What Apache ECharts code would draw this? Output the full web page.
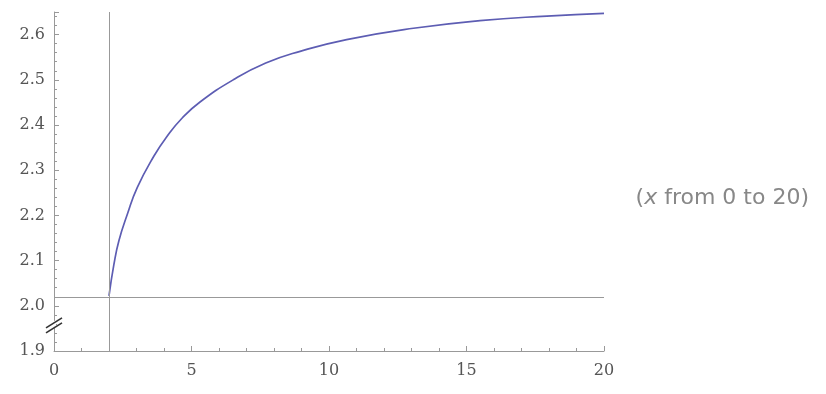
<!DOCTYPE html>
<html>
<head>
<meta charset="utf-8">
<script src="https://cdn.jsdelivr.net/npm/echarts@6/dist/echarts.min.js"></script>
<style>html,body{margin:0;padding:0;background:#fff}#c{width:826px;height:394px}</style>
</head>
<body>
<div id="c"></div>
<script>
// curve samples
var xs = [2.0, 2.18, 2.36, 2.67, 3.03, 3.64, 4.1, 4.67, 5.31, 6.52, 7.7, 8.95, 10.64, 13.07, 15.49, 17.92, 20.0];
var ys = [2.022, 2.092, 2.144, 2.203, 2.262, 2.332, 2.374, 2.416, 2.451, 2.50, 2.537, 2.563, 2.589, 2.614, 2.631, 2.641, 2.647];
// axis crossing lines
var crossX = 2;
var crossY = 2.022;
var xTicks = [0, 5, 10, 15, 20];
var yTicks = [1.9, 2.0, 2.1, 2.2, 2.3, 2.4, 2.5, 2.6];
var breakAt = 1.96;

var data = xs.map(function (x, i) { return [x, ys[i]]; });
var chart = echarts.init(document.getElementById('c'), null, {renderer: 'canvas'});
var labelStyle = {color: '#555', fontFamily: 'DejaVu Serif', fontSize: 16};
var gray = '#999';
chart.setOption({
  animation: false,
  grid: {left: 54, right: 222, top: 12, bottom: 43},
  xAxis: {
    type: 'value', min: xTicks[0], max: xTicks[xTicks.length - 1], interval: 5,
    axisLine: {lineStyle: {color: gray, width: 1}},
    axisTick: {inside: true, length: 5, lineStyle: {color: gray}},
    minorTick: {show: true, splitNumber: 5, length: 3, lineStyle: {color: gray}},
    axisLabel: Object.assign({margin: 12}, labelStyle),
    splitLine: {show: false}
  },
  yAxis: {
    type: 'value', min: yTicks[0], max: 2.65, interval: 0.1,
    axisLine: {show: true, lineStyle: {color: gray, width: 1}},
    axisTick: {inside: true, length: 5, lineStyle: {color: gray}},
    minorTick: {show: true, splitNumber: 5, length: 3, lineStyle: {color: gray}},
    axisLabel: Object.assign({margin: 9, showMaxLabel: false, padding: [4, 0, 0, 0],
      formatter: function (v) { return v.toFixed(1); }}, labelStyle),
    splitLine: {show: false}
  },
  series: [{
    type: 'line', data: data, smooth: 0.5, showSymbol: false,
    lineStyle: {color: '#5d5db3', width: 1.7},
    markLine: {
      silent: true, symbol: 'none', label: {show: false},
      lineStyle: {color: gray, width: 1, type: 'solid'},
      data: [{xAxis: crossX}, {yAxis: crossY}]
    },
    z: 3
  }]
});
var p = chart.convertToPixel({gridIndex: 0}, [0, breakAt]);
chart.setOption({
  graphic: [
    {type: 'rect', shape: {x: p[0] - 2, y: p[1] - 3, width: 4, height: 6}, style: {fill: '#fff'}, z: 10},
    {type: 'line', shape: {x1: p[0] - 8, y1: p[1] + 4, x2: p[0] + 8, y2: p[1] - 6}, style: {stroke: '#333', lineWidth: 1.7}, z: 11},
    {type: 'line', shape: {x1: p[0] - 8, y1: p[1] + 9, x2: p[0] + 8, y2: p[1] - 1}, style: {stroke: '#333', lineWidth: 1.7}, z: 11},
    {type: 'text', right: 17, top: 187, style: {
      text: '({i|x} from 0 to 20)',
      fill: '#888', font: '22px "DejaVu Sans"',
      rich: {i: {fontStyle: 'italic', fill: '#888', fontSize: 22, fontFamily: 'DejaVu Sans'}}
    }}
  ]
});
</script>
</body>
</html>
